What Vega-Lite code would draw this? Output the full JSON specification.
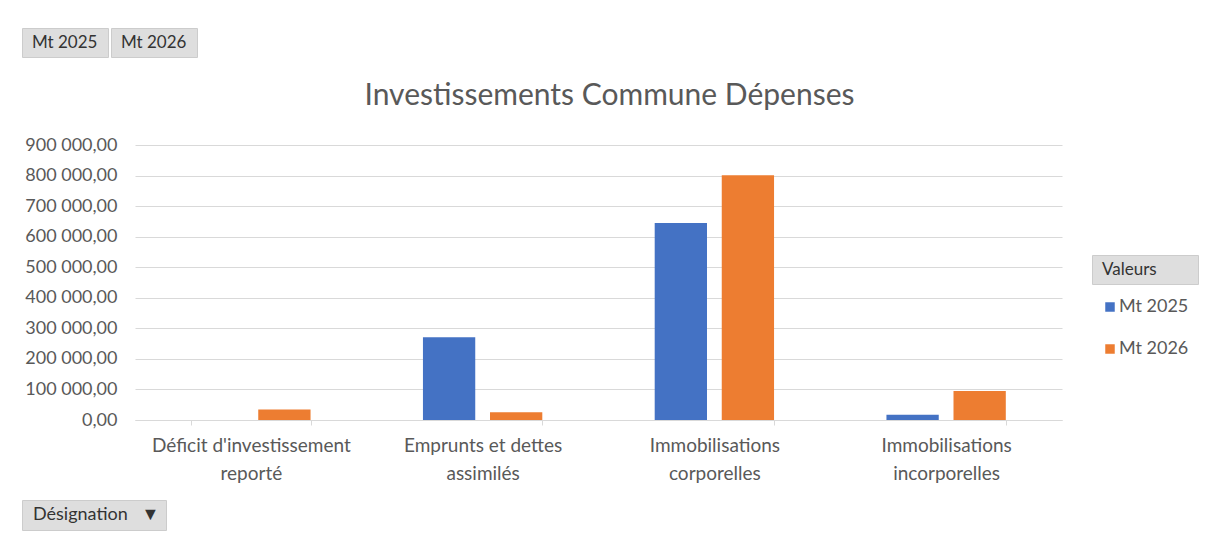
{
  "$schema": "https://vega.github.io/schema/vega-lite/v6.json",
  "autosize": {"type": "none"},
  "width": 927,
  "height": 275,
  "padding": {"left": 135, "top": 145, "right": 147, "bottom": 119},
  "background": "white",
  "config": {
    "font": "Lato",
    "view": {"stroke": null},
    "locale": {"number": {"decimal": ",", "thousands": " ", "grouping": [3], "currency": ["", " €"]}},
    "legend": {
      "title": null,
      "orient": "none",
      "symbolType": "square",
      "labelFont": "Lato"
    }
  },
  "title": {
    "text": "Investissements Commune Dépenses",
    "font": "Lato",
    "fontSize": 30,
    "fontWeight": "normal",
    "color": "#595959",
    "offset": -83,
    "dx": 11
  },
  "data": {
    "values": [
      {"designation": "Déficit d'investissement reporté", "serie": "Mt 2025", "montant": 0},
      {"designation": "Déficit d'investissement reporté", "serie": "Mt 2026", "montant": 34000},
      {"designation": "Emprunts et dettes assimilés", "serie": "Mt 2025", "montant": 271000},
      {"designation": "Emprunts et dettes assimilés", "serie": "Mt 2026", "montant": 25000},
      {"designation": "Immobilisations corporelles", "serie": "Mt 2025", "montant": 645000},
      {"designation": "Immobilisations corporelles", "serie": "Mt 2026", "montant": 801000},
      {"designation": "Immobilisations incorporelles", "serie": "Mt 2025", "montant": 17000},
      {"designation": "Immobilisations incorporelles", "serie": "Mt 2026", "montant": 95000}
    ]
  },
  "encoding": {
    "x": {
      "field": "designation",
      "type": "nominal",
      "sort": null,
      "scale": {"paddingInner": 0.485, "paddingOuter": 0.2425},
      "axis": {
        "title": null,
        "labelAngle": 0,
        "labelFontSize": 19,
        "labelColor": "#595959",
        "labelLineHeight": 28,
        "labelPadding": 11,
        "labelLimit": 260,
        "labelExpr": "[slice(datum.label, 0, lastindexof(datum.label, ' ')), slice(datum.label, lastindexof(datum.label, ' ') + 1)]",
        "domainColor": "#d9d9d9",
        "tickColor": "#d9d9d9",
        "tickSize": 5,
        "tickBand": "extent",
        "grid": false
      }
    },
    "xOffset": {
      "field": "serie",
      "type": "nominal",
      "scale": {"paddingInner": 0.22, "paddingOuter": 0}
    },
    "y": {
      "field": "montant",
      "type": "quantitative",
      "scale": {"domain": [0, 900000], "nice": false},
      "axis": {
        "title": null,
        "values": [0, 100000, 200000, 300000, 400000, 500000, 600000, 700000, 800000, 900000],
        "format": ",.2f",
        "labelFontSize": 18,
        "labelColor": "#595959",
        "labelPadding": 18,
        "ticks": false,
        "domain": false,
        "gridColor": "#d9d9d9",
        "gridWidth": 1
      }
    }
  },
  "layer": [
    {
      "mark": {"type": "bar"},
      "encoding": {
        "color": {
          "field": "serie",
          "type": "nominal",
          "scale": {"domain": ["Mt 2025", "Mt 2026"], "range": ["#4472C4", "#ED7D31"]},
          "legend": {
            "legendX": 966,
            "legendY": 153,
            "symbolSize": 90,
            "symbolStrokeWidth": 0,
            "labelFontSize": 18,
            "labelColor": "#595959",
            "rowPadding": 24,
            "padding": 0,
            "labelOffset": 0
          }
        },
        "strokeDash": {
          "datum": "Valeurs",
          "type": "nominal",
          "scale": {"range": [[1, 0]]},
          "legend": {
            "legendX": 957,
            "legendY": 110,
            "symbolSize": 0,
            "symbolOpacity": 0,
            "symbolStrokeWidth": 0,
            "labelOffset": -13,
            "labelFontSize": 17,
            "labelColor": "#333333",
            "labelExpr": "'Valeurs\u00a0\u00a0\u00a0\u00a0\u00a0\u00a0\u00a0\u00a0\u200b'",
            "padding": 6,
            "fillColor": "#dedede",
            "strokeColor": "#cccccc"
          }
        }
      }
    },
    {
      "mark": {"type": "point", "opacity": 0},
      "encoding": {
        "strokeDash": {
          "datum": "Mt 2025",
          "type": "nominal",
          "scale": {"range": [[1, 0]]},
          "legend": {
            "legendX": -113,
            "legendY": -117,
            "symbolSize": 0,
            "symbolOpacity": 0,
            "symbolStrokeWidth": 0,
            "labelOffset": -13,
            "labelFontSize": 17,
            "labelColor": "#333333",
            "labelExpr": "'Mt 2025\u00a0\u200b'",
            "padding": 6,
            "fillColor": "#dedede",
            "strokeColor": "#cccccc"
          }
        }
      }
    },
    {
      "mark": {"type": "point", "opacity": 0},
      "encoding": {
        "strokeDash": {
          "datum": "Mt 2026",
          "type": "nominal",
          "scale": {"range": [[1, 0]]},
          "legend": {
            "legendX": -24,
            "legendY": -117,
            "symbolSize": 0,
            "symbolOpacity": 0,
            "symbolStrokeWidth": 0,
            "labelOffset": -13,
            "labelFontSize": 17,
            "labelColor": "#333333",
            "labelExpr": "'Mt 2026\u00a0\u200b'",
            "padding": 6,
            "fillColor": "#dedede",
            "strokeColor": "#cccccc"
          }
        }
      }
    },
    {
      "mark": {"type": "point", "opacity": 0},
      "encoding": {
        "strokeDash": {
          "datum": "Désignation",
          "type": "nominal",
          "scale": {"range": [[1, 0]]},
          "legend": {
            "legendX": -113,
            "legendY": 355,
            "symbolSize": 0,
            "symbolOpacity": 0,
            "symbolStrokeWidth": 0,
            "labelOffset": -13,
            "labelFontSize": 18,
            "labelColor": "#333333",
            "labelExpr": "'Désignation\u00a0\u00a0\u00a0▼\u200b'",
            "padding": 6,
            "fillColor": "#dedede",
            "strokeColor": "#cccccc"
          }
        }
      }
    }
  ],
  "resolve": {"scale": {"strokeDash": "independent"}, "legend": {"strokeDash": "independent"}}
}
